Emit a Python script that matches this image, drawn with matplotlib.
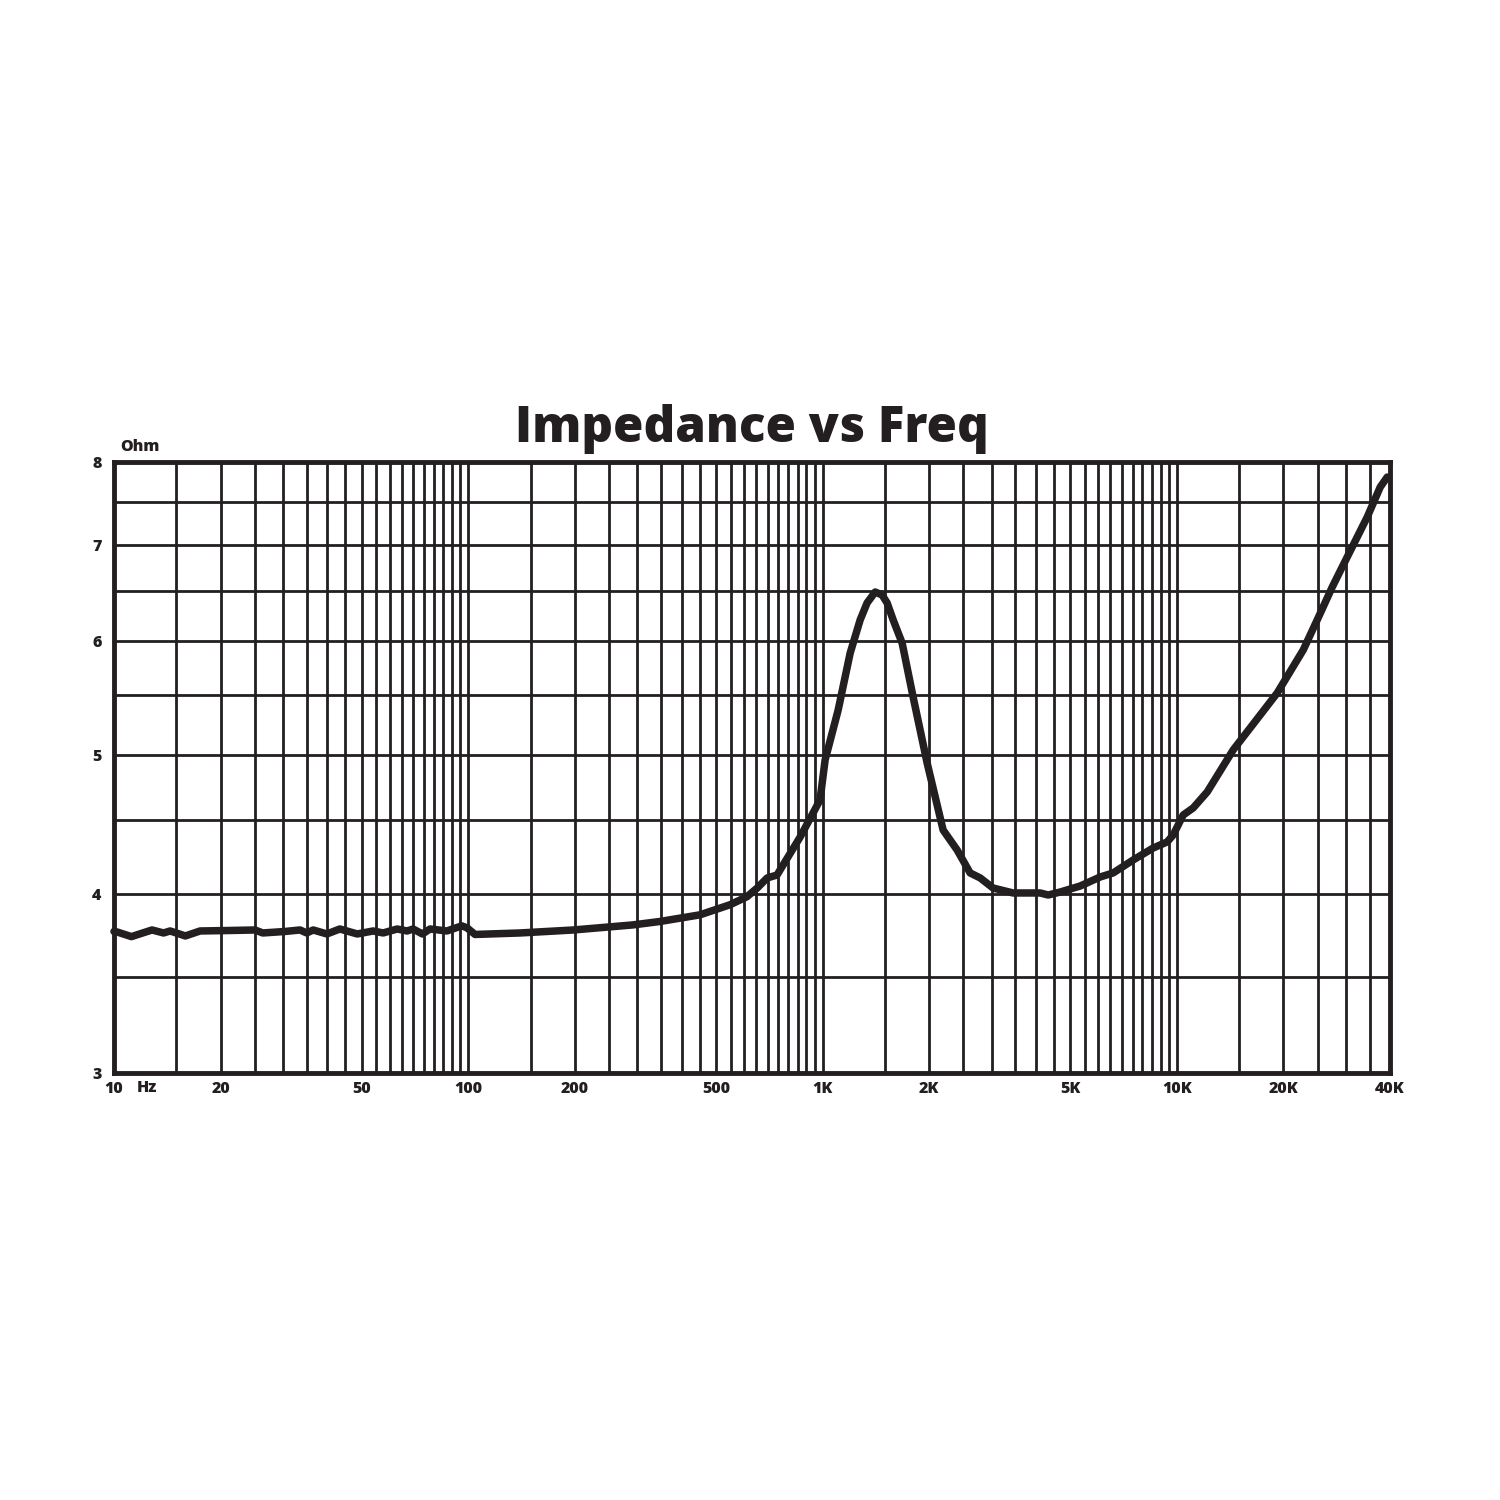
import matplotlib
matplotlib.use("Agg")
import matplotlib.pyplot as plt
import numpy as np

# ---- data (frequency in Hz, impedance in Ohm) ----
freq_hz = [10.0, 10.2, 11.2, 12.8, 13.8, 14.4, 15.9, 17.5, 21.3, 25.0, 26.3, 30.4,
           33.5, 35.0, 36.5, 39.9, 43.4, 48.6, 53.9, 57.5, 63.0, 67.2, 69.9, 74.2,
           78.0, 87.0, 95.9, 99.2, 104.5, 140, 198, 292, 348, 451, 548, 612, 654,
           698, 744, 774, 865, 984, 1017, 1107, 1197, 1277, 1336, 1408, 1473, 1522,
           1583, 1678, 1802, 1974, 2190, 2399, 2610, 2786, 3030, 3452, 4116, 4335,
           4686, 5337, 6076, 6614, 7533, 8579, 9395, 9770, 10426, 11126, 12187,
           14430, 19206, 22750, 24910, 27470, 29310, 34490, 37530, 39280]
impedance_ohm = [3.765, 3.762, 3.734, 3.774, 3.756, 3.768, 3.738, 3.768, 3.771, 3.774,
                 3.756, 3.765, 3.774, 3.756, 3.774, 3.750, 3.780, 3.750, 3.768, 3.756,
                 3.780, 3.768, 3.780, 3.750, 3.780, 3.768, 3.799, 3.787, 3.747, 3.756,
                 3.774, 3.805, 3.826, 3.867, 3.930, 3.981, 4.037, 4.103, 4.122, 4.189,
                 4.382, 4.650, 4.958, 5.372, 5.887, 6.208, 6.380, 6.493, 6.462, 6.380,
                 6.208, 5.982, 5.486, 4.934, 4.431, 4.291, 4.136, 4.103, 4.037, 4.005,
                 4.005, 3.992, 4.011, 4.050, 4.109, 4.136, 4.223, 4.305, 4.347, 4.396,
                 4.539, 4.591, 4.710, 5.039, 5.521, 5.916, 6.208, 6.545, 6.759, 7.324,
                 7.685, 7.809]

x_tick_values = [10, 20, 50, 100, 200, 500, 1000, 2000, 5000, 10000, 20000, 40000]
x_tick_labels = ["10", "20", "50", "100", "200", "500", "1K", "2K", "5K", "10K", "20K", "40K"]
y_tick_values = [3, 4, 5, 6, 7, 8]
y_tick_labels = ["3", "4", "5", "6", "7", "8"]

INK = "#231f20"
FONT = ["Open Sans", "DejaVu Sans"]
TICK_FS = 11.5

fig = plt.figure(figsize=(15, 15), dpi=100)
ax = fig.add_axes([0.076, 0.2847, 0.8507, 0.4073])
ax.set_xscale("log")
ax.set_yscale("log")
ax.set_xlim(10, 40000)
ax.set_ylim(3, 8)

# grid positions
xgrid = []
for d in [10, 100, 1000, 10000]:
    for m in np.arange(1.0, 10.0, 0.5):
        v = d * m
        if 10 <= v <= 40000:
            xgrid.append(v)
xgrid.append(40000)
ygrid = list(np.arange(3.0, 8.01, 0.5))
for v in xgrid:
    ax.axvline(v, color=INK, lw=2.0, zorder=1)
for v in ygrid:
    ax.axhline(v, color=INK, lw=2.0, zorder=1)

ax.plot(freq_hz, impedance_ohm, color=INK, lw=5.4, solid_joinstyle="round",
        solid_capstyle="round", zorder=3, clip_on=False)

for s in ax.spines.values():
    s.set_linewidth(3.5)
    s.set_color(INK)
    s.set_zorder(4)

ax.set_xticks(x_tick_values)
ax.set_xticklabels(x_tick_labels)
ax.set_yticks(y_tick_values)
ax.set_yticklabels(y_tick_labels)
ax.minorticks_off()
ax.tick_params(axis="x", length=0, pad=6)
ax.tick_params(axis="y", length=0, pad=9)
for lab in ax.get_xticklabels() + ax.get_yticklabels():
    lab.set_fontfamily(FONT)
    lab.set_fontweight("heavy")
    lab.set_fontsize(TICK_FS)
    lab.set_color(INK)

fig.text(147 / 1500, 1 - 1088 / 1500, "Hz", ha="center", va="center",
         fontsize=TICK_FS, fontweight="heavy", family=FONT, color=INK)
fig.text(120 / 1500, 1 - 447 / 1500, "Ohm", ha="left", va="center",
         fontsize=TICK_FS, fontweight="heavy", family=FONT, color=INK)
fig.text(752 / 1500, 1 - 429 / 1500, "Impedance vs Freq", ha="center", va="center",
         fontsize=35.5, fontweight="heavy", family=FONT, color=INK)

fig.savefig("out.png", dpi=100, facecolor="white")
